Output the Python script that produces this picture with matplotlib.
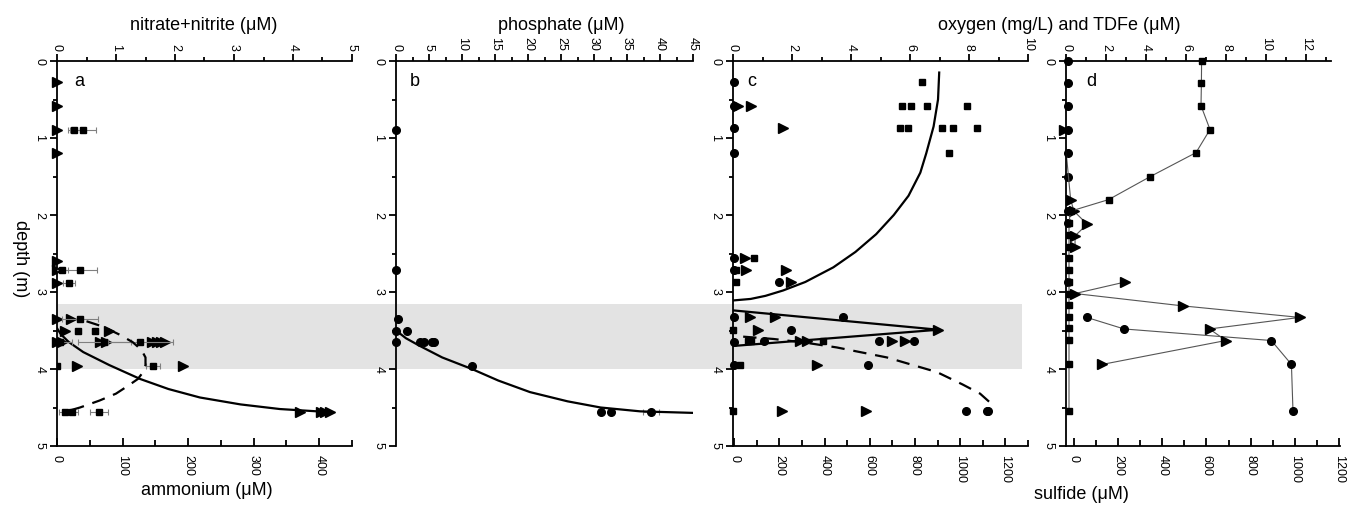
import matplotlib
matplotlib.use("Agg")
import matplotlib.pyplot as plt
from matplotlib.patches import Rectangle
from matplotlib.ticker import MultipleLocator

plt.rcParams['font.family'] = ['Liberation Sans', 'DejaVu Sans']

# ---------------- data ----------------
# panel a: ammonium (triangles, bottom axis) and nitrate+nitrite (squares, top axis)
amm_depth = [0.27, 0.59, 0.89, 1.2, 2.6, 2.72, 2.88, 3.35, 3.35, 3.5, 3.5,
             3.65, 3.65, 3.65, 3.65, 3.65, 3.65, 3.65, 3.65, 3.96, 3.96,
             4.56, 4.56, 4.56, 4.56]
amm_val = [0, 0, 0, 0, 0, 0, 0, 0, 22, 12, 79,
           0, 8, 66, 74, 145, 152, 158, 165, 30, 192,
           371, 402, 409, 416]
nit_depth = [0.89, 0.89, 2.72, 2.72, 2.88, 3.35, 3.5, 3.5, 3.65, 3.65, 3.65,
             3.96, 3.96, 4.56, 4.56, 4.56]
nit_val = [0.29, 0.44, 0.08, 0.39, 0.2, 0.39, 0.36, 0.64, 0.05, 0.8, 1.41,
           0.0, 1.63, 0.13, 0.25, 0.71]
nit_err = [0.1, 0.22, 0.1, 0.28, 0.1, 0.3, 0.05, 0.05, 0.2, 0.45, 0.55,
           0.0, 0.12, 0.1, 0.1, 0.15]
amm_fit_depth = [3.47, 3.55, 3.65, 3.78, 3.95, 4.13, 4.26, 4.37, 4.46, 4.52, 4.56]
amm_fit_val = [0, 6, 18, 40, 80, 127, 170, 218, 280, 340, 416]
nit_fit_depth = [3.38, 3.45, 3.55, 3.65, 3.75, 3.85, 3.95, 4.05, 4.13, 4.22, 4.32, 4.41, 4.5, 4.56]
nit_fit_val = [0.5, 0.78, 1.05, 1.28, 1.43, 1.5, 1.5, 1.45, 1.37, 1.2, 1.0, 0.72, 0.39, 0.12]

# panel b: phosphate
phos_depth = [0.89, 2.72, 3.35, 3.5, 3.5, 3.65, 3.65, 3.65, 3.65, 3.65, 3.96, 4.56, 4.56, 4.56]
phos_val = [0, 0, 0.3, 0, 1.7, 0, 3.6, 4.2, 5.4, 5.8, 11.5, 31, 32.6, 38.6]
phos_err = [0, 0, 0, 0, 0, 0, 0, 0, 0, 0, 0, 0, 0, 1.2]
phos_fit_depth = [3.5, 3.6, 3.7, 3.85, 4.0, 4.15, 4.3, 4.42, 4.5, 4.55, 4.57]
phos_fit_val = [0, 1.5, 3.6, 7.0, 11.5, 15.5, 20.3, 26, 31, 37, 45]

# panel c: sulfide (circles, triangles; bottom axis) and oxygen (squares; top axis)
c_circ_depth = [0.27, 0.58, 0.87, 1.19, 2.56, 2.71, 2.87, 3.33, 3.33, 3.49, 3.65, 3.64,
                3.64, 3.64, 3.95, 3.95, 4.55, 4.55, 4.55]
c_circ_val = [0, 0, 0, 0, 0, 0, 200, 0, 481, 252, 0, 130,
              642, 795, 0, 590, 1025, 1118, 1124]
c_tri_depth = [0.58, 0.58, 0.87, 2.56, 2.71, 2.71, 2.87, 3.33, 3.33, 3.49, 3.49,
               3.64, 3.64, 3.64, 3.64, 3.95, 4.55, 4.55]
c_tri_val = [19, 74, 218, 50, 53, 231, 253, 71, 181, 106, 904,
             292, 323, 698, 756, 366, 211, 585]
c_sq_depth = [0.27, 0.58, 0.58, 0.58, 0.58, 0.87, 0.87, 0.87, 0.87, 0.87, 1.19,
              2.56, 2.71, 2.87, 3.49, 3.64, 3.64, 3.64, 3.95, 4.55]
c_sq_val = [6.42, 5.74, 6.04, 6.57, 7.92, 5.66, 5.92, 7.07, 7.47, 8.26, 7.32,
            0.72, 0.1, 0.1, 0.0, 0.5, 0.62, 3.06, 0.24, 0.0]
oxy_fit_depth = [0.15, 0.5, 0.85, 1.2, 1.45, 1.75, 2.0, 2.25, 2.48, 2.68, 2.87, 2.98, 3.05, 3.09, 3.11]
oxy_fit_val = [6.99, 6.95, 6.8, 6.55, 6.35, 5.95, 5.45, 4.85, 4.15, 3.4, 2.45, 1.7, 1.1, 0.6, 0.0]
wedge_depth = [3.24, 3.49, 3.70]
wedge_val = [0, 904, 0]
sulf_fit_depth = [3.58, 3.61, 3.66, 3.72, 3.85, 4.04, 4.2, 4.32, 4.43, 4.5, 4.55]
sulf_fit_val = [40, 174, 320, 454, 676, 897, 1010, 1088, 1130, 1140, 1122]

# panel d: TDFe (squares, top axis), sulfide (circles, triangles; bottom axis)
d_sq_depth = [0, 0.29, 0.58, 0.89, 1.19, 1.5, 1.8, 1.95, 2.1, 2.26, 2.41, 2.56, 2.71,
              2.87, 3.02, 3.17, 3.32, 3.47, 3.62, 3.94, 4.54]
d_sq_val = [6.78, 6.77, 6.75, 7.2, 6.5, 4.22, 2.13, 0.23, 0.15, 0.15, 0.15, 0.15, 0.15,
            0.15, 0.15, 0.15, 0.15, 0.15, 0.15, 0.15, 0.15]
d_circ_up_depth = [0, 0.29, 0.58, 0.89, 1.19, 1.5, 1.95, 2.1, 2.87]
d_circ_up_val = [-25, -25, -25, -25, -25, -25, -25, -25, -25]
d_circ_depth = [3.33, 3.48, 3.63, 3.94, 4.54]
d_circ_val = [58, 227, 894, 985, 992]
d_tri_up_depth = [0.89, 1.8, 1.95, 2.12, 2.27, 2.42]
d_tri_up_val = [-45, -15, 0, 60, 5, 5]
d_tri_depth = [2.87, 3.02, 3.18, 3.33, 3.48, 3.63, 3.94]
d_tri_val = [232, 5, 492, 1023, 614, 688, 129]

shade_depth = (3.15, 4.0)

# ---------------- layout ----------------
W, H = 1349, 506
fig = plt.figure(figsize=(W / 100, H / 100), dpi=100)
TOP, BOT = 62, 447


def make_axes(x0, x1):
    ax = fig.add_axes([x0 / W, 1 - BOT / H, (x1 - x0) / W, (BOT - TOP) / H])
    ax.set_facecolor('none')
    return ax


TICK_FS = 9
LW_AX = 1.3


def style_depth(ax):
    ax.set_ylim(5, 0)
    ax.yaxis.set_major_locator(MultipleLocator(1))
    ax.yaxis.set_minor_locator(MultipleLocator(0.5))
    ax.tick_params(axis='y', which='both', left=True, right=False, direction='out',
                   labelrotation=-90, labelsize=TICK_FS, width=LW_AX)
    ax.tick_params(axis='y', which='major', length=5)
    ax.tick_params(axis='y', which='minor', length=3)
    ax.spines['left'].set_linewidth(LW_AX)
    ax.spines['right'].set_visible(False)


def style_bottom(ax, major, minor):
    ax.xaxis.set_major_locator(MultipleLocator(major))
    ax.xaxis.set_minor_locator(MultipleLocator(minor))
    ax.tick_params(axis='x', which='both', bottom=True, top=False, direction='in',
                   labelrotation=-90, labelsize=TICK_FS, width=LW_AX, pad=6)
    ax.tick_params(axis='x', which='major', length=6)
    ax.tick_params(axis='x', which='minor', length=4)
    ax.spines['bottom'].set_linewidth(LW_AX)
    ax.spines['top'].set_visible(False)


def style_top(ax, major, minor):
    ax.xaxis.tick_top()
    ax.xaxis.set_major_locator(MultipleLocator(major))
    ax.xaxis.set_minor_locator(MultipleLocator(minor))
    ax.tick_params(axis='x', which='both', top=True, bottom=False, direction='out',
                   labelrotation=-90, labelsize=TICK_FS, width=LW_AX, pad=3)
    ax.tick_params(axis='x', which='major', length=5)
    ax.tick_params(axis='x', which='minor', length=3)
    ax.spines['top'].set_linewidth(LW_AX)
    for s in ('bottom', 'left', 'right'):
        ax.spines[s].set_visible(False)
    ax.tick_params(axis='y', which='both', left=False, right=False,
                   labelleft=False, labelright=False)


MK = dict(color='black', linestyle='none')
TRI = dict(marker='>', markersize=7.5, **MK)
CIR = dict(marker='o', markersize=5.5, **MK)
SQ = dict(marker='s', markersize=5, **MK)
FIT = dict(color='black', lw=1.6)
DASH = dict(color='black', lw=1.6, dashes=(6, 4))
ERR = dict(fmt='none', ecolor='#808080', elinewidth=0.8, capsize=2, capthick=0.8)
CONN = dict(color='#555555', lw=0.8)
LET = dict(fontsize=13, ha='center', va='center')

# ---- panel a ----
axa = make_axes(57, 352)
style_depth(axa)
axa.set_xlim(0, 450)
style_bottom(axa, 100, 50)
axa_t = axa.twiny()
axa_t.set_facecolor('none')
axa_t.set_xlim(0, 5)
style_top(axa_t, 1, 0.5)
axa_t.errorbar(nit_val, nit_depth, xerr=nit_err, **ERR)
axa_t.plot(nit_fit_val, nit_fit_depth, **DASH)
axa_t.plot(nit_val, nit_depth, **SQ)
axa.plot(amm_fit_val, amm_fit_depth, **FIT)
axa.plot(amm_val, amm_depth, **TRI, clip_on=False)
axa.text(34, 0.25, 'a', **LET)

# ---- panel b ----
axb = make_axes(396, 693)
style_depth(axb)
axb.set_xlim(0, 45)
style_top(axb, 5, 2.5)
axb.tick_params(axis='y', which='both', left=True, labelleft=True)
axb.spines['left'].set_visible(True)
axb.errorbar(phos_val, phos_depth, xerr=phos_err, **ERR)
axb.plot(phos_fit_val, phos_fit_depth, **FIT)
axb.plot(phos_val, phos_depth, **CIR, clip_on=False)
axb.text(2.9, 0.25, 'b', **LET)

# ---- panel c ----
axc = make_axes(733, 1028)
style_depth(axc)
axc.set_xlim(-5, 1300)
style_bottom(axc, 200, 100)
axc_t = axc.twiny()
axc_t.set_facecolor('none')
axc_t.set_xlim(0, 10)
style_top(axc_t, 2, 1)
axc_t.plot(oxy_fit_val, oxy_fit_depth, **FIT)
axc_t.plot(c_sq_val, c_sq_depth, **SQ, clip_on=False)
axc.plot(wedge_val, wedge_depth, **FIT)
axc.plot(sulf_fit_val, sulf_fit_depth, **DASH)
axc.plot(c_circ_val, c_circ_depth, **CIR, clip_on=False)
axc.plot(c_tri_val, c_tri_depth, **TRI, clip_on=False)
axc.text(78, 0.25, 'c', **LET)

# ---- panel d ----
axd = make_axes(1066, 1340)
style_depth(axd)
axd.set_xlim(-36, 1205)
style_bottom(axd, 200, 100)
axd_t = axd.twiny()
axd_t.set_facecolor('none')
axd_t.set_xlim(0, 13.7)
style_top(axd_t, 2, 1)
axd_t.spines['top'].set_bounds(0, 13.25)
axd_t.plot(d_sq_val, d_sq_depth, **CONN)
axd_t.plot(d_sq_val, d_sq_depth, **SQ, clip_on=False)
axd.plot(d_circ_val, d_circ_depth, **CONN)
axd.plot(d_circ_val, d_circ_depth, **CIR)
axd.plot(d_circ_up_val, d_circ_up_depth, **CIR, clip_on=False)
axd.plot(d_tri_up_val, d_tri_up_depth, **CONN)
axd.plot(d_tri_up_val, d_tri_up_depth, **TRI, clip_on=False)
axd.plot(d_tri_val, d_tri_depth, **CONN)
axd.plot(d_tri_val, d_tri_depth, **TRI, clip_on=False)
axd.text(80, 0.25, 'd', **LET)

# ---- shaded suboxic zone (spans panels a-c) ----
inv = fig.transFigure.inverted()
y_top = inv.transform(axa.transData.transform((0, shade_depth[0])))[1]
y_bot = inv.transform(axa.transData.transform((0, shade_depth[1])))[1]
fig.add_artist(Rectangle((57 / W, y_bot), (1022 - 57) / W, y_top - y_bot,
                         transform=fig.transFigure, facecolor='#e3e3e3',
                         edgecolor='none', zorder=-5))

# ---- titles ----
TFS = 13
fig.text(204 / W, 1 - 25 / H, 'nitrate+nitrite (μM)', fontsize=TFS, ha='center', va='center')
fig.text(207 / W, 1 - 491 / H, 'ammonium (μM)', fontsize=TFS, ha='center', va='center')
fig.text(20 / W, 1 - 259 / H, 'depth (m)', fontsize=TFS, ha='center', va='center', rotation=-90)
fig.text(561 / W, 1 - 25 / H, 'phosphate (μM)', fontsize=TFS, ha='center', va='center')
fig.text(1059 / W, 1 - 25 / H, 'oxygen (mg/L) and TDFe (μM)', fontsize=TFS, ha='center', va='center')
fig.text(1081 / W, 1 - 495 / H, 'sulfide (μM)', fontsize=TFS, ha='center', va='center')

fig.savefig('out.png', dpi=100)
